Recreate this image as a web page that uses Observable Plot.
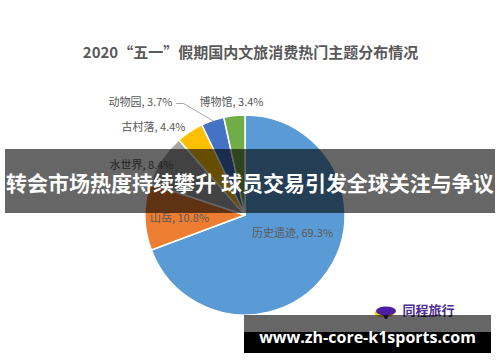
<!DOCTYPE html>
<html>
<head>
<meta charset="utf-8">
<script src="https://cdn.jsdelivr.net/npm/d3@7"></script>
<script src="https://cdn.jsdelivr.net/npm/@observablehq/plot@0.6"></script>
<style>
  html, body { margin: 0; padding: 0; background: #fff; }
  #wrap { position: relative; width: 500px; height: 362px; overflow: hidden; font-family: "Noto Sans CJK SC", "Noto Sans", sans-serif; }
  #wrap svg { display: block; }
  .banner { position: absolute; left: 5px; top: 149px; width: 490px; height: 64px; background: rgba(0,0,0,0.6); }
  .banner-text { position: absolute; left: 0; width: 500px; top: 167px; text-align: center; white-space: nowrap; color: #fff; font-weight: bold; font-size: 21px; line-height: 30px; font-family: "Noto Sans CJK SC", sans-serif; }
  .wm-top { position: absolute; left: 244px; top: 315px; width: 247px; height: 17px; background: rgba(0,0,0,0.6); }
  .wm { position: absolute; left: 244px; top: 332px; width: 247px; height: 21px; background: #000; }
  .wm-text { position: absolute; left: 244px; width: 247px; top: 326px; line-height: 22px; text-align: center; color: #fff; font-weight: bold; font-size: 16px; font-family: "Open Sans", "DejaVu Sans", sans-serif; white-space: nowrap; }
</style>
</head>
<body>
<div id="wrap"></div>
<script>
// ---- data ----
const title = "2020“五一”假期国内文旅消费热门主题分布情况";
const categories = ["历史遗迹", "山岳", "水世界", "古村落", "动物园", "博物馆"];
const shares = [69.3, 10.8, 8.4, 4.4, 3.7, 3.4];
const colors = ["#5B9BD5", "#ED7D31", "#A5A5A5", "#FFC000", "#4472C4", "#70AD47"];
const bannerText = "转会市场热度持续攀升 球员交易引发全球关注与争议";
const watermarkText = "www.zh-core-k1sports.com";
const logoText = "同程旅行";

// ---- layout ----
const W = 500, H = 362;
const CX = 245, CY = 215, R = 100;
// label centre offsets relative to pie centre, in radius units
const labelOffsets = [[0.47, 0.18], [-0.66, 0.03], [-1.04, -0.50], [-0.92, -0.88], [-1.05, -1.13], [-0.14, -1.13]];

const data = categories.map((c, i) => ({
  category: c,
  share: shares[i],
  color: colors[i],
  label: `${c}, ${shares[i]}%`,
  lx: CX + labelOffsets[i][0] * R,
  ly: CY + labelOffsets[i][1] * R
}));

const pie = d3.pie().value(d => d.share).sort(null)(data);

// leader line for 动物园
const zooIdx = categories.indexOf("动物园");
const zooArc = pie[zooIdx];
const zooMid = (zooArc.startAngle + zooArc.endAngle) / 2;
const zooLabel = data[zooIdx];
const leader = [
  {x: zooLabel.lx + 36, y: zooLabel.ly + 1},
  {x: zooLabel.lx + 43, y: zooLabel.ly + 1},
  {x: CX + Math.sin(zooMid) * R, y: CY - Math.cos(zooMid) * R}
];

function pieMark(index, scales, values, dimensions, context) {
  const sx = scales.x, sy = scales.y;
  const cx = sx(CX), cy = sy(CY);
  const rr = sx(CX + R) - sx(CX);
  const arc = d3.arc().innerRadius(0).outerRadius(rr);
  const g = d3.create("svg:g").attr("transform", `translate(${cx},${cy})`);
  g.selectAll("path").data(pie).join("path")
    .attr("d", arc)
    .attr("fill", d => d.data.color)
    .attr("stroke", "#fff")
    .attr("stroke-width", 1.5)
    .attr("stroke-linejoin", "round");
  return g.node();
}

function logoIcon(index, scales) {
  const g = d3.create("svg:g").attr("transform", `translate(${scales.x(386)},${scales.y(311)})`);
  g.append("ellipse").attr("cx", -1.5).attr("cy", 2).attr("rx", 10).attr("ry", 4.5).attr("fill", "#F5D200");
  g.append("ellipse").attr("cx", 0).attr("cy", 0).attr("rx", 10).attr("ry", 4.5).attr("fill", "#4B1FA0");
  g.append("path").attr("d", "M-3,3 L3,3 L1,8 L-1,8 Z").attr("fill", "#4B1FA0");
  return g.node();
}

const chart = Plot.plot({
  width: W,
  height: H,
  margin: 0,
  x: {domain: [0, W], range: [0, W], axis: null},
  y: {domain: [0, H], range: [0, H], axis: null},
  style: {background: "#fff", fontFamily: "\"Noto Sans CJK SC\", sans-serif"},
  marks: [
    pieMark,
    Plot.line(leader, {x: "x", y: "y", stroke: "#A6A6A6", strokeWidth: 1}),
    Plot.text(data, {x: "lx", y: "ly", text: "label", fill: "#595959", fontSize: 11}),
    Plot.text([title], {x: W / 2, y: 53, text: d => d, fill: "#595959", fontSize: 15, fontWeight: "bold"}),
    logoIcon,
    Plot.text([logoText], {x: 428, y: 310, text: d => d, fill: "#4B2C8F", fontSize: 13, fontWeight: "bold"})
  ]
});

const wrap = document.getElementById("wrap");
wrap.appendChild(chart);

const banner = document.createElement("div");
banner.className = "banner";
wrap.appendChild(banner);
const bt = document.createElement("div");
bt.className = "banner-text";
bt.textContent = bannerText;
wrap.appendChild(bt);

const wt = document.createElement("div"); wt.className = "wm-top"; wrap.appendChild(wt);
const wb = document.createElement("div"); wb.className = "wm"; wrap.appendChild(wb);
const wtx = document.createElement("div"); wtx.className = "wm-text"; wtx.textContent = watermarkText; wrap.appendChild(wtx);
</script>
</body>
</html>
